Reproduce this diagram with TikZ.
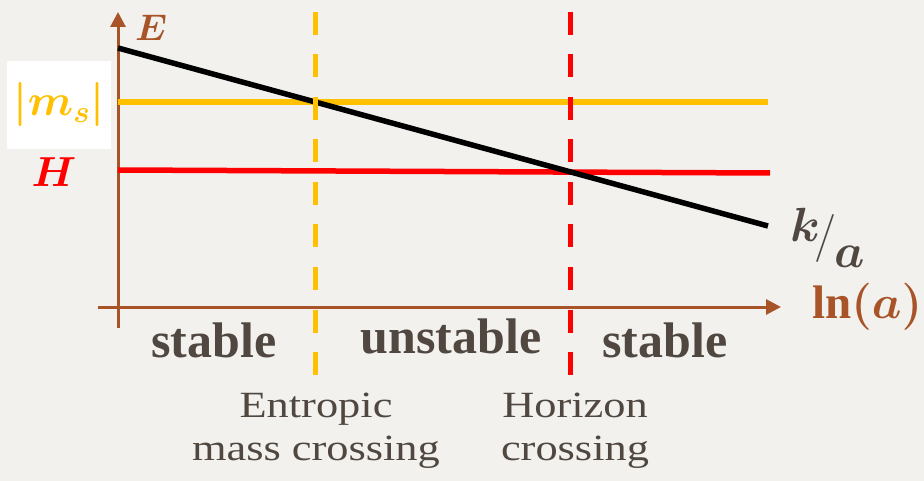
\RequirePackage{fix-cm}
\documentclass[tikz,border=0pt]{standalone}
\usepackage{fontspec,amsmath}
\setmainfont{Liberation Serif}
\definecolor{axbrown}{RGB}{168,84,40}
\definecolor{msyellow}{RGB}{255,192,0}
\definecolor{hred}{RGB}{255,0,0}
\definecolor{txgray}{RGB}{80,72,64}
\definecolor{bggray}{RGB}{242,241,238}
\usetikzlibrary{arrows.meta,positioning}

\begin{document}
\begin{tikzpicture}[x=1pt,y=-1pt,
  axisline/.style={axbrown,line width=3pt,-{Triangle[length=15pt,width=15pt]}},
  levelline/.style={line width=5.5pt},
  crossline/.style={line width=5pt,dash pattern=on 23pt off 19.5pt},
  regionlabel/.style={anchor=base,inner sep=0pt,font=\fontsize{50}{54}\selectfont\bfseries,text=txgray},
  crosslabel/.style={xscale=1.2,font=\fontsize{37}{43}\selectfont,text=txgray,align=center}]
  %% Background
  \fill[bggray] (0,0) rectangle (924,481);
  \useasboundingbox (0,0) rectangle (924,481);
  %% Axes
  \coordinate (ybot) at (118,328);
  \coordinate (ytop) at (118,12);
  \coordinate (xleft) at (98,307);
  \coordinate (xright) at (781,307);
  \draw[axisline] (ybot) -- (ytop);
  \draw[axisline] (xleft) -- (xright);
  %% Levels and the falling k/a line
  \coordinate (ms0) at (118,102);
  \coordinate (ms1) at (768,102);
  \coordinate (h0) at (118,170);
  \coordinate (h1) at (770,173);
  \coordinate (k0) at (118,48);
  \coordinate (k1) at (768,226);
  \draw[levelline,msyellow] (ms0) -- (ms1);
  \draw[levelline,hred] (h0) -- (h1);
  \draw[levelline,black] (k0) -- (k1);
  %% Crossings
  \coordinate (ec0) at (315,12);
  \coordinate (ec1) at (315,375);
  \coordinate (hc0) at (570,12);
  \coordinate (hc1) at (570,375);
  \draw[crossline,msyellow] (ec0) -- (ec1);
  \draw[crossline,hred] (hc0) -- (hc1);
  %% Labels
  \node[text=axbrown,font=\fontsize{37}{40}\selectfont] (elab) at (151,28) {$\boldsymbol{E}$};
  \node[fill=white,minimum width=104pt,minimum height=88pt,text=msyellow,font=\fontsize{44}{46}\selectfont] (mslab) at (59,105) {$\boldsymbol{|m_{s}|}$};
  \node[text=hred,font=\fontsize{42}{44}\selectfont] (hlab) at (54,172) {$\boldsymbol{H}$};
  \node[anchor=base west,inner sep=0pt,text=txgray,font=\fontsize{48}{50}\selectfont] (kalab) at (790,251)
    {\raisebox{9pt}{$\boldsymbol{k}$}\kern-6pt$/$\kern-2pt\raisebox{-17pt}{$\boldsymbol{a}$}};
  \node[anchor=base west,inner sep=0pt,text=axbrown,font=\fontsize{47}{48}\selectfont] (lnlab) at (812,318)
    {$\boldsymbol{\mathrm{ln}(a)}$};
  \node[regionlabel] (st1) at (214,357) {stable};
  \node[regionlabel] (unst) at (451,353) {unstable};
  \node[regionlabel] (st2) at (665,357) {stable};
  \node[crosslabel] (entlab) at (316,431) {Entropic\\mass crossing};
  \node[crosslabel] (horlab) at (575,431) {Horizon\\crossing};
\end{tikzpicture}
\end{document}
